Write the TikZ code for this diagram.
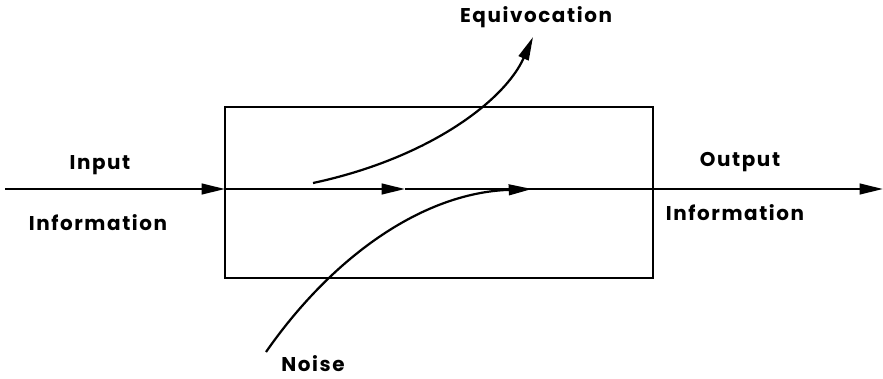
\documentclass[tikz,border=0pt]{standalone}
\usepackage{fontspec}
\setmainfont{Poppins}[BoldFont={Poppins Bold}, LetterSpace=8]
\usetikzlibrary{arrows.meta}
\tikzset{
  flow/.style={line width=1.9pt, -{Triangle[length=7mm, width=3.2mm]}},
  label/.style={font=\fontsize{17}{19}\selectfont\bfseries, inner sep=0pt},
  channel/.style={draw, line width=1.7pt, minimum width=12.84cm, minimum height=5.13cm},
}
\begin{document}
\begin{tikzpicture}[x=0.03cm, y=-0.03cm]
  \useasboundingbox (0,0) rectangle (883,378);
  \node[channel] (chan) at (439,192.5) {};

  % main line through the channel
  \coordinate (in) at (5,189);
  \coordinate (entry) at (225,189);
  \coordinate (mid) at (405,189);
  \coordinate (out) at (883,189);
  \draw[flow] (in) -- (entry);
  \draw[flow] (entry) -- (mid);
  \draw[flow] (mid) -- (out);

  % equivocation and noise
  \coordinate (eqstart) at (313,183);
  \coordinate (eqend) at (533,37);
  \coordinate (nsstart) at (266,352);
  \coordinate (nsend) at (532,189);
  \draw[flow] (eqstart) .. controls (430,158) and (505,100) .. (eqend);
  \draw[flow] (nsstart) .. controls (330,260) and (420,193) .. (nsend);

  % labels
  \node[label] (inp) at (100,165) {Input};
  \node[label] (inpinfo) at (98,223) {Information};
  \node[label] (outp) at (740,162) {Output};
  \node[label] (outinfo) at (735,213) {Information};
  \node[label] (equiv) at (536,17) {Equivocation};
  \node[label] (noise) at (313,364) {Noise};
\end{tikzpicture}
\end{document}
